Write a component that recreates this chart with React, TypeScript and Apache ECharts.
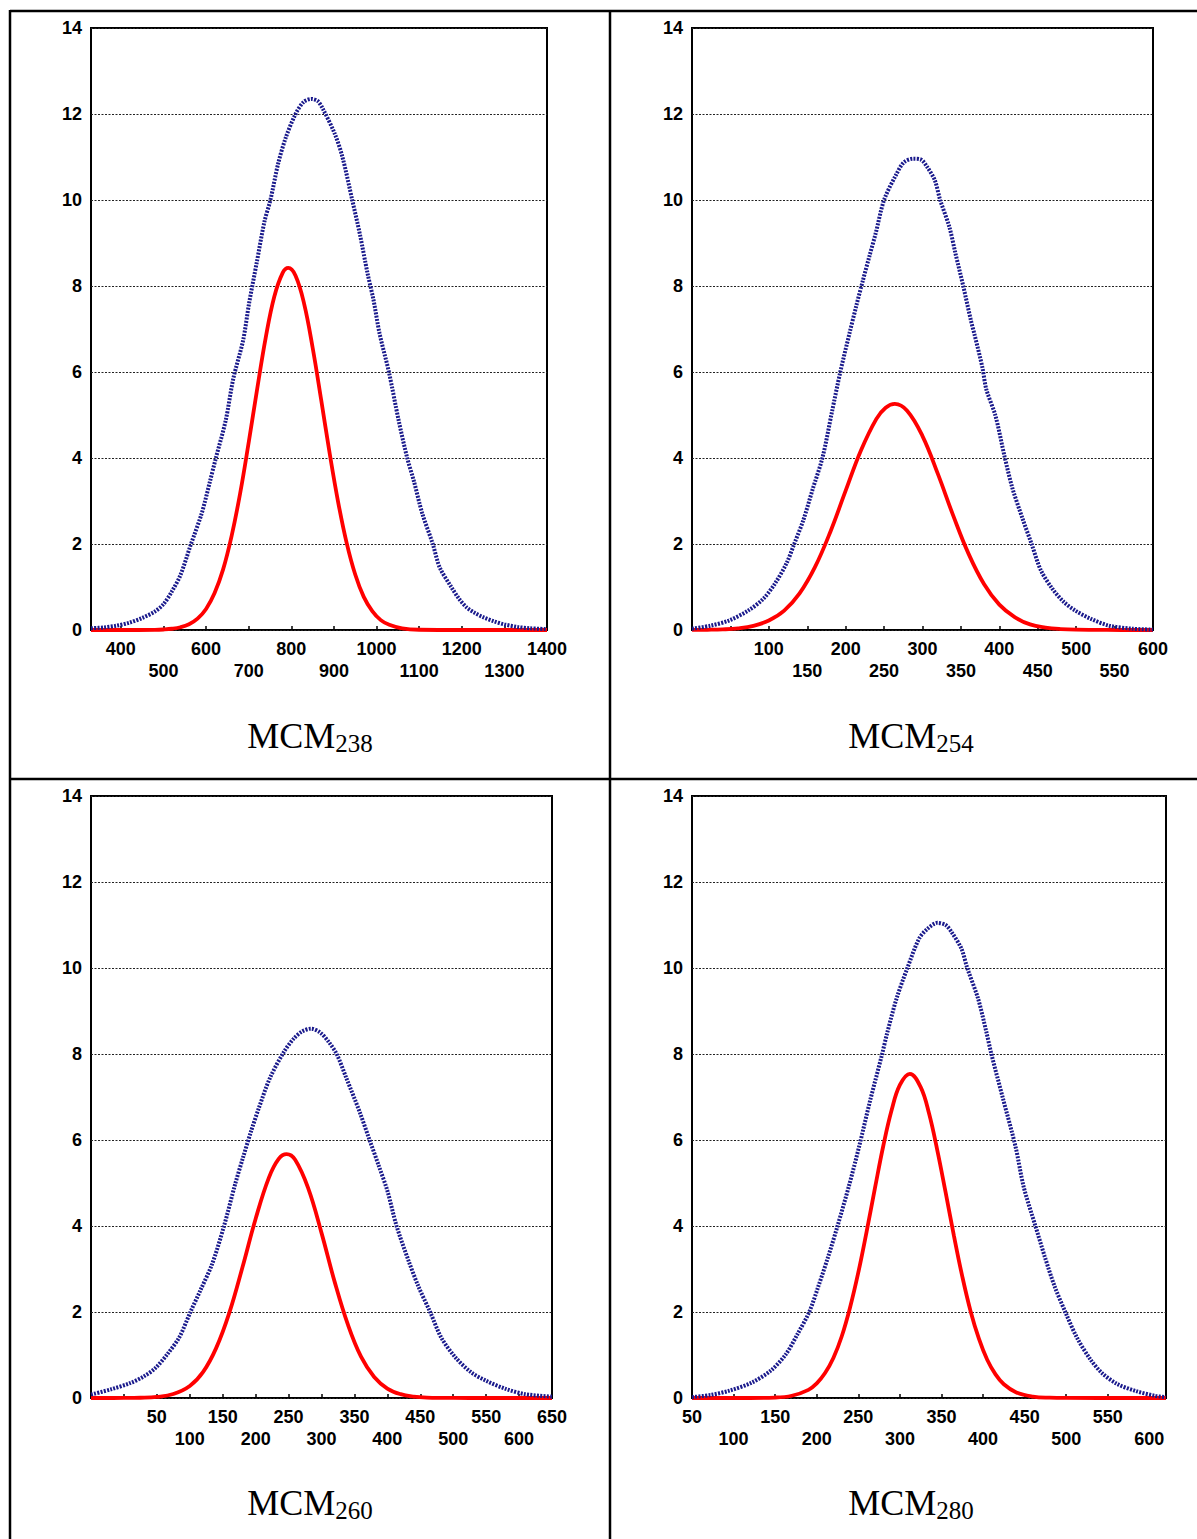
import React, { useEffect, useRef } from "react";
import * as echarts from "echarts";

// ---------- Panel 1 : MCM238 ----------
const p1BlueX = [330,360,390,420,450,480,500,520,540,564,590,609,623,646,664,687,701,719,737,751,769,787,810,829,847,862,874,902,920,943,961,979,993,1007,1029,1052,1072,1088,1107,1132,1148,1176,1194,1212,1230,1250,1276,1300,1331,1360,1400];
const p1BlueY = [0.04,0.06,0.1,0.17,0.28,0.43,0.6,0.9,1.28,1.98,2.72,3.45,4.0,4.87,5.85,6.74,7.6,8.55,9.5,10.0,10.84,11.45,12.0,12.28,12.35,12.3,12.12,11.54,11.0,10.0,9.2,8.29,7.67,6.9,6.0,4.87,4.0,3.45,2.72,2.0,1.46,0.99,0.72,0.52,0.4,0.3,0.2,0.13,0.07,0.04,0.02];
const p1RedX = [330,400,480,500,520,540,560,580,600,620,640,660,680,700,720,740,760,780,793,810,830,850,870,890,910,930,950,970,990,1010,1030,1060,1100,1200,1400];
const p1RedY = [0,0,0.004,0.012,0.029,0.064,0.134,0.265,0.49,0.86,1.41,2.19,3.18,4.36,5.61,6.8,7.75,8.31,8.42,8.24,7.59,6.57,5.36,4.11,2.97,2.02,1.29,0.77,0.44,0.23,0.12,0.037,0.006,0,0];
const p1Ticks = [400,500,600,700,800,900,1000,1100,1200,1300,1400];
const p1TopLabels = [400,600,800,1000,1200,1400];
const p1BottomLabels = [500,700,900,1100,1300];

// ---------- Panel 2 : MCM254 ----------
const p2BlueX = [0,24,48,73,93,108,123,133,145,157,170,182,193,205,214,222,231,239,250,266,276,288,298,306,316,323,335,343,353,363,368,378,383,395,407,417,430,442,454,469,484,499,519,543,573,600];
const p2BlueY = [0.03,0.1,0.22,0.45,0.73,1.08,1.55,2.0,2.56,3.27,4.02,5.06,6.0,6.9,7.55,8.1,8.7,9.22,10.0,10.6,10.88,10.96,10.94,10.77,10.46,10.0,9.37,8.75,8.0,7.2,6.85,6.1,5.6,4.98,4.02,3.3,2.6,2.0,1.39,0.96,0.65,0.45,0.26,0.1,0.03,0.01];
const p2RedX = [0,20,40,60,80,100,120,140,160,180,200,220,240,252,264,280,300,320,340,360,380,400,420,440,460,480,500,540,600];
const p2RedY = [0.001,0.005,0.014,0.038,0.096,0.22,0.45,0.85,1.46,2.28,3.24,4.18,4.91,5.17,5.26,5.1,4.51,3.63,2.66,1.77,1.07,0.59,0.3,0.13,0.056,0.021,0.007,0.001,0];
const p2Ticks = [50,100,150,200,250,300,350,400,450,500,550,600];
const p2TopLabels = [100,200,300,400,500,600];
const p2BottomLabels = [150,250,350,450,550];

// ---------- Panel 3 : MCM260 ----------
const p3BlueX = [-50,-20,10,30,48,66,84,101,116,134,152,169,181,193,205,222,243,258,270,284,298,311,323,338,358,373,387,400,414,432,447,465,482,503,527,550,580,609,650];
const p3BlueY = [0.08,0.2,0.35,0.5,0.7,1.02,1.41,2.0,2.5,3.12,4.0,4.98,5.6,6.2,6.75,7.45,8.05,8.36,8.52,8.59,8.5,8.28,8.0,7.43,6.65,6.0,5.4,4.82,4.0,3.2,2.6,2.0,1.4,0.95,0.6,0.4,0.21,0.09,0.03];
const p3RedX = [-50,0,25,50,75,100,120,140,160,180,200,220,235,247,260,280,300,320,340,360,380,400,420,440,460,500,550,650];
const p3RedY = [0,0.001,0.006,0.026,0.093,0.28,0.6,1.16,1.98,3.04,4.17,5.12,5.56,5.67,5.54,4.87,3.84,2.7,1.71,0.96,0.49,0.22,0.089,0.032,0.01,0.001,0,0];
const p3Ticks = [0,50,100,150,200,250,300,350,400,450,500,550,600,650];
const p3TopLabels = [50,150,250,350,450,550,650];
const p3BottomLabels = [100,200,300,400,500,600];

// ---------- Panel 4 : MCM280 ----------
const p4BlueX = [50,72,95,122,145,163,177,191,202,214,225,239,251,264,278,285,296,309,323,333,345,355,362,374,381,394,404,410,424,439,449,463,474,486,500,513,529,543,561,584,607,620];
const p4BlueY = [0.02,0.07,0.17,0.36,0.64,1.02,1.49,2.0,2.6,3.3,4.0,4.95,5.85,6.9,7.95,8.51,9.29,10.0,10.68,10.91,11.05,11.0,10.84,10.45,10.0,9.29,8.51,8.0,6.96,5.85,4.9,4.0,3.3,2.6,1.95,1.4,0.9,0.58,0.33,0.16,0.05,0.02];
const p4RedX = [50,100,150,170,190,200,210,220,230,240,250,260,270,280,290,300,312,325,335,345,355,365,375,385,395,405,415,425,440,460,480,500,620];
const p4RedY = [0,0,0.011,0.052,0.19,0.34,0.58,0.93,1.43,2.1,2.92,3.87,4.88,5.86,6.69,7.28,7.54,7.23,6.62,5.76,4.78,3.77,2.83,2.02,1.38,0.89,0.55,0.32,0.13,0.034,0.007,0.001,0];
const p4Ticks = [100,150,200,250,300,350,400,450,500,550,600];
const p4TopLabels = [50,150,250,350,450,550];
const p4BottomLabels = [100,200,300,400,500,600];

const yTicks = [0, 2, 4, 6, 8, 10, 12, 14];
const titles = ["238", "254", "260", "280"];

const W = 1197;
const H = 1539;
const SANS = "'Liberation Sans', Arial, sans-serif";
const SERIF = "'Liberation Serif', 'Times New Roman', serif";
const BLUE = "#1a1a8c";
const RED = "#ff0000";

function pairs(xs: number[], ys: number[]) {
  return xs.map((x, i) => [x, ys[i]]);
}

export default function App() {
  const ref = useRef<HTMLDivElement>(null);

  useEffect(() => {
    if (!ref.current) return;
    const chart = echarts.init(ref.current, null, { renderer: "svg" });

    const panels = [
      { grid: { left: 91, top: 28, width: 456, height: 602 }, min: 330, max: 1400, ticks: p1Ticks, top: p1TopLabels, bottom: p1BottomLabels, bx: p1BlueX, by: p1BlueY, rx: p1RedX, ry: p1RedY, cx: 310, cy: 735.5 },
      { grid: { left: 692, top: 28, width: 461, height: 602 }, min: 0, max: 600, ticks: p2Ticks, top: p2TopLabels, bottom: p2BottomLabels, bx: p2BlueX, by: p2BlueY, rx: p2RedX, ry: p2RedY, cx: 911, cy: 735.5 },
      { grid: { left: 91, top: 796, width: 461, height: 602 }, min: -50, max: 650, ticks: p3Ticks, top: p3TopLabels, bottom: p3BottomLabels, bx: p3BlueX, by: p3BlueY, rx: p3RedX, ry: p3RedY, cx: 310, cy: 1503 },
      { grid: { left: 692, top: 796, width: 474, height: 602 }, min: 50, max: 620, ticks: p4Ticks, top: p4TopLabels, bottom: p4BottomLabels, bx: p4BlueX, by: p4BlueY, rx: p4RedX, ry: p4RedY, cx: 911, cy: 1503 },
    ];

    const grid = panels.map((p) => ({
      ...p.grid,
      show: true,
      borderColor: "#000",
      borderWidth: 2,
      backgroundColor: "transparent",
      containLabel: false,
    }));

    const xAxis = panels.map((p, i) => ({
      type: "value",
      gridIndex: i,
      min: p.min,
      max: p.max,
      axisLine: { show: false },
      splitLine: { show: false },
      axisTick: {
        show: true,
        inside: true,
        length: 4,
        customValues: p.ticks,
        lineStyle: { color: "#000", width: 1.5 },
      },
      axisLabel: {
        show: true,
        customValues: [...p.top, ...p.bottom].sort((a, b) => a - b),
        formatter: (v: number) => (p.bottom.indexOf(v) >= 0 ? "\n" + v : String(v)),
        margin: 8,
        color: "#000",
        fontFamily: SANS,
        fontWeight: "bold",
        fontSize: 18,
        lineHeight: 22,
      },
    }));

    const yAxis = panels.map((_p, i) => ({
      type: "value",
      gridIndex: i,
      min: yTicks[0],
      max: yTicks[yTicks.length - 1],
      interval: 2,
      axisLine: { show: false },
      axisTick: { show: false },
      axisLabel: {
        margin: 9,
        color: "#000",
        fontFamily: SANS,
        fontWeight: "bold",
        fontSize: 18,
      },
      splitLine: {
        show: true,
        lineStyle: { color: "#222", width: 1, type: [2, 1.5] },
      },
    }));

    const series: any[] = [];
    panels.forEach((p, i) => {
      series.push({
        type: "line",
        xAxisIndex: i,
        yAxisIndex: i,
        data: pairs(p.rx, p.ry),
        showSymbol: false,
        smooth: 0.4,
        lineStyle: { color: RED, width: 3.8 },
        z: 3,
      });
      series.push({
        type: "line",
        xAxisIndex: i,
        yAxisIndex: i,
        data: pairs(p.bx, p.by),
        showSymbol: false,
        smooth: 0.3,
        lineStyle: { color: BLUE, width: 4, type: [2, 1.3] },
        z: 4,
      });
    });

    const frame = [
      { x1: 10, y1: 11, x2: W, y2: 11 },
      { x1: 10, y1: 779, x2: W, y2: 779 },
      { x1: 10, y1: 10, x2: 10, y2: H },
      { x1: 610, y1: 10, x2: 610, y2: H },
    ].map((s) => ({
      type: "line",
      shape: s,
      style: { stroke: "#000", lineWidth: 2.5 },
      silent: true,
    }));

    const titleTexts = panels.map((p, i) => ({
      type: "text",
      x: p.cx,
      y: p.cy,
      silent: true,
      style: {
        text: "{a|MCM}{b|" + titles[i] + "}",
        align: "center",
        verticalAlign: "middle",
        rich: {
          a: { fontFamily: SERIF, fontSize: 36, lineHeight: 40, fill: "#000", verticalAlign: "middle" },
          b: { fontFamily: SERIF, fontSize: 25, lineHeight: 22, fill: "#000", verticalAlign: "bottom" },
        },
      },
    }));

    chart.setOption({
      animation: false,
      backgroundColor: "#fff",
      grid,
      xAxis,
      yAxis,
      series,
      graphic: [...frame, ...titleTexts],
    });

    return () => chart.dispose();
  }, []);

  return (
    <div
      ref={ref}
      style={{ position: "absolute", left: 0, top: 0, width: W, height: H, background: "#fff" }}
    />
  );
}
